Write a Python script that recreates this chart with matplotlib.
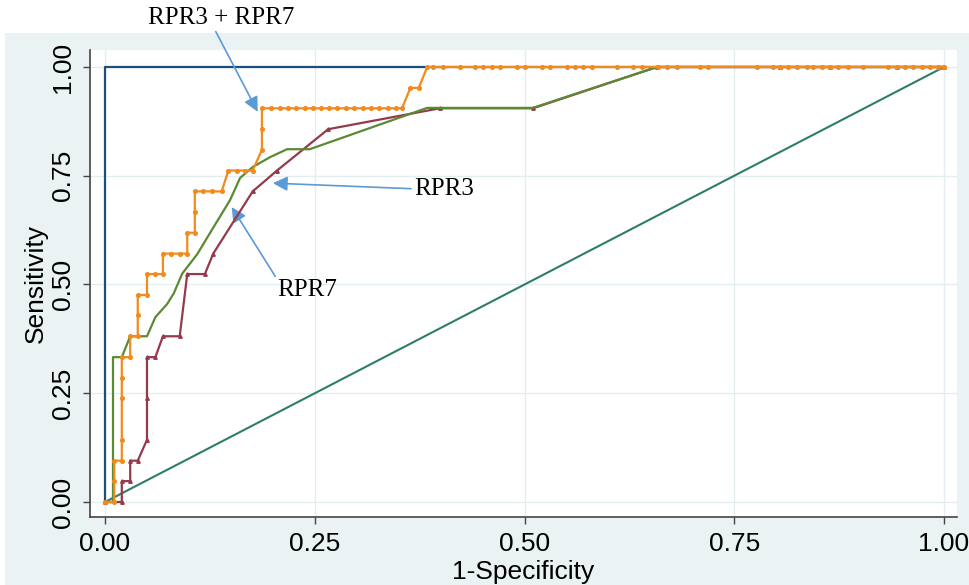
import matplotlib
matplotlib.use("Agg")
import matplotlib.pyplot as plt
from matplotlib.patches import Rectangle

plt.rcParams['font.family'] = ['Liberation Sans Narrow', 'Liberation Sans', 'DejaVu Sans']

# ROC curves (x = 1-specificity, y = sensitivity)
ref_x = [0.0, 0.0, 1.0]
ref_y = [0.0, 1.0, 1.0]

rpr3_x = [0.0, 0.020, 0.020, 0.030, 0.030, 0.039, 0.050, 0.050, 0.050, 0.060, 0.069, 0.089,
          0.098, 0.119, 0.129, 0.176, 0.205, 0.266, 0.399, 0.510, 0.658, 0.805, 0.864, 0.944, 1.0]
rpr3_y = [0.0, 0.0, 0.048, 0.048, 0.095, 0.095, 0.143, 0.238, 0.333, 0.333, 0.381, 0.381,
          0.524, 0.524, 0.571, 0.714, 0.762, 0.857, 0.905, 0.905, 1.0, 1.0, 1.0, 1.0, 1.0]

rpr7_x = [0.0, 0.0095, 0.0095, 0.020, 0.030, 0.050, 0.060, 0.074, 0.082, 0.092, 0.110, 0.125,
          0.149, 0.161, 0.176, 0.197, 0.217, 0.244, 0.384, 0.399, 0.510, 0.658, 1.0]
rpr7_y = [0.0, 0.0, 0.333, 0.333, 0.381, 0.381, 0.425, 0.455, 0.480, 0.525, 0.570, 0.618,
          0.694, 0.745, 0.770, 0.793, 0.811, 0.811, 0.906, 0.906, 0.906, 1.0, 1.0]

combo_x = [0.0, 0.011, 0.011, 0.011, 0.020, 0.020, 0.020, 0.020, 0.020, 0.030, 0.030, 0.039,
           0.039, 0.039, 0.050, 0.050, 0.059, 0.069, 0.069, 0.079, 0.089, 0.098, 0.098, 0.107,
           0.107, 0.107, 0.117, 0.127, 0.139, 0.147, 0.157, 0.167, 0.176, 0.187, 0.187, 0.187,
           0.198, 0.208, 0.218, 0.228, 0.238, 0.248, 0.257, 0.267, 0.277, 0.287, 0.297, 0.307,
           0.317, 0.327, 0.337, 0.347, 0.354, 0.364, 0.374, 0.384, 0.391, 0.403, 0.423, 0.441,
           0.451, 0.461, 0.471, 0.491, 0.501, 0.521, 0.530, 0.551, 0.560, 0.570, 0.580, 0.610,
           0.629, 0.640, 0.659, 0.670, 0.682, 0.709, 0.719, 0.777, 0.796, 0.805, 0.814, 0.825,
           0.837, 0.844, 0.855, 0.864, 0.874, 0.885, 0.903, 0.933, 0.944, 0.953, 0.963, 0.974,
           0.983, 0.993, 1.0]
combo_y = [0.0, 0.0, 0.048, 0.095, 0.095, 0.143, 0.238, 0.286, 0.333, 0.333, 0.381, 0.381,
           0.429, 0.476, 0.476, 0.524, 0.524, 0.524, 0.571, 0.571, 0.571, 0.571, 0.619, 0.619,
           0.667, 0.714, 0.714, 0.714, 0.714, 0.762, 0.762, 0.762, 0.762, 0.810, 0.857, 0.905,
           0.905, 0.905, 0.905, 0.905, 0.905, 0.905, 0.905, 0.905, 0.905, 0.905, 0.905, 0.905,
           0.905, 0.905, 0.905, 0.905, 0.905, 0.952, 0.952, 1.0, 1.0, 1.0, 1.0, 1.0,
           1.0, 1.0, 1.0, 1.0, 1.0, 1.0, 1.0, 1.0, 1.0, 1.0, 1.0, 1.0,
           1.0, 1.0, 1.0, 1.0, 1.0, 1.0, 1.0, 1.0, 1.0, 1.0, 1.0, 1.0,
           1.0, 1.0, 1.0, 1.0, 1.0, 1.0, 1.0, 1.0, 1.0, 1.0, 1.0, 1.0,
           1.0, 1.0, 1.0]

diag = [0.0, 1.0]
ticks = [0.0, 0.25, 0.5, 0.75, 1.0]
tick_labels = ['0.00', '0.25', '0.50', '0.75', '1.00']

fig = plt.figure(figsize=(9.69, 5.85), dpi=100, facecolor='white')
# light stata-like graph region
fig.patches.append(Rectangle((0.005, 0), 0.995, 0.944, transform=fig.transFigure,
                             facecolor='#eaf2f3', edgecolor='none', zorder=-10))

ax = fig.add_axes([0.0929, 0.1162, 0.8947, 0.7983])
ax.set_facecolor('white')

ax.plot(ref_x, ref_y, color='#1f4e79', lw=1.6, zorder=3)
ax.plot(rpr3_x, rpr3_y, color='#953a4c', lw=1.6, marker='^', ms=2.5, zorder=4)
ax.plot(rpr7_x, rpr7_y, color='#5b8a33', lw=1.6, zorder=5)
ax.plot(combo_x, combo_y, color='#f28a1c', lw=1.6, marker='o', ms=2.6, zorder=6)
ax.plot(diag, diag, color='#2e7d6b', lw=1.5, zorder=3)

ax.set_xlim(-0.0179, 1.0155)
ax.set_ylim(-0.0345, 1.039)
ax.set_xticks(ticks)
ax.set_xticklabels(tick_labels)
ax.set_yticks(ticks)
ax.set_yticklabels(tick_labels, rotation=90, va='center')
ax.tick_params(labelsize=19, length=5, width=1, color='#444444', pad=6)
ax.grid(True, color='#e4eef0', lw=1)
ax.set_axisbelow(True)
for s in ['top', 'right']:
    ax.spines[s].set_visible(False)
for s in ['left', 'bottom']:
    ax.spines[s].set_color('#444444')
    ax.spines[s].set_linewidth(1.2)

ax.set_xlabel('1-Specificity', fontsize=19, labelpad=3)
ax.set_ylabel('Sensitivity', fontsize=19, labelpad=2)

arrow = dict(arrowstyle='-|>', color='#5b9bd5', lw=1.2, mutation_scale=22,
             shrinkA=0, shrinkB=0)
serif = ['Liberation Serif', 'DejaVu Serif']
ax.annotate('RPR3 + RPR7', xy=(0.182, 0.897), xytext=(0.139, 1.113),
            ha='center', va='center', fontsize=18, family=serif,
            arrowprops=dict(arrow, relpos=(0.45, 0.0)), annotation_clip=False)
ax.annotate('RPR3', xy=(0.200, 0.733), xytext=(0.368, 0.72),
            ha='left', va='center', fontsize=18, family=serif,
            arrowprops=dict(arrow, relpos=(0.0, 0.5)))
ax.annotate('RPR7', xy=(0.151, 0.678), xytext=(0.205, 0.487),
            ha='left', va='center', fontsize=18, family=serif,
            arrowprops=dict(arrow, relpos=(0.0, 1.0)))

fig.savefig('out.png', dpi=100, facecolor=fig.get_facecolor())
